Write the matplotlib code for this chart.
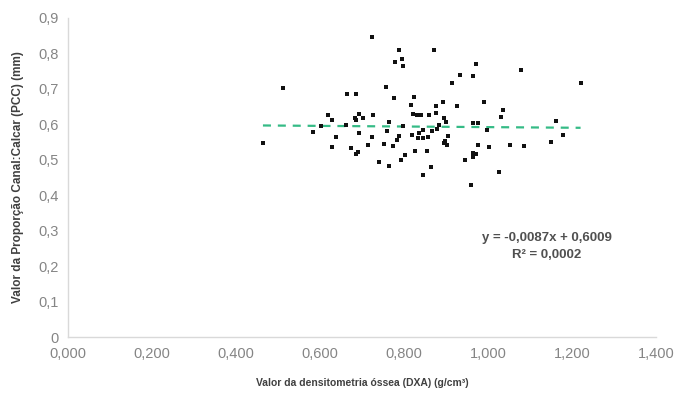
import matplotlib
matplotlib.use("Agg")
import matplotlib.pyplot as plt
from matplotlib.ticker import FuncFormatter, MultipleLocator

plt.rcParams['font.family'] = ['Liberation Sans', 'DejaVu Sans']

# DXA (g/cm2) e PCC
dxa = [0.464, 0.512, 0.584, 0.602, 0.620, 0.629, 0.637, 0.629, 0.661, 0.664,
       0.685, 0.682, 0.693, 0.686, 0.701, 0.693, 0.674, 0.685, 0.690, 0.723,
       0.715, 0.727, 0.723, 0.787, 0.795, 0.779, 0.798, 0.870, 0.756, 0.776,
       0.823, 0.817, 0.875, 0.892, 0.926, 0.913, 0.933, 0.965, 0.970, 0.763,
       0.798, 0.822, 0.830, 0.840, 0.860, 0.875, 0.895, 0.900, 0.882, 0.878,
       0.867, 0.846, 0.836, 0.832, 0.846, 0.858, 0.818, 0.789, 0.782, 0.759,
       0.752, 0.773, 0.905, 0.898, 0.903, 0.895, 0.826, 0.854, 0.802, 0.792,
       0.741, 0.765, 0.864, 0.845, 0.944, 0.963, 0.965, 0.960, 0.977, 0.963,
       0.977, 1.036, 1.031, 0.997, 1.001, 0.971, 1.051, 1.086, 1.025, 1.162,
       1.178, 1.150, 1.078, 1.220, 0.989]
pcc = [0.548, 0.702, 0.578, 0.595, 0.627, 0.613, 0.564, 0.536, 0.599, 0.686,
       0.686, 0.618, 0.629, 0.613, 0.618, 0.577, 0.533, 0.516, 0.522, 0.563,
       0.542, 0.627, 0.845, 0.811, 0.785, 0.775, 0.764, 0.811, 0.705, 0.673,
       0.677, 0.655, 0.653, 0.662, 0.653, 0.718, 0.740, 0.735, 0.771, 0.608,
       0.594, 0.629, 0.627, 0.627, 0.627, 0.632, 0.618, 0.606, 0.599, 0.588,
       0.582, 0.585, 0.575, 0.561, 0.561, 0.564, 0.571, 0.566, 0.556, 0.580,
       0.545, 0.538, 0.566, 0.552, 0.542, 0.547, 0.525, 0.525, 0.514, 0.500,
       0.493, 0.483, 0.479, 0.458, 0.500, 0.519, 0.509, 0.429, 0.542, 0.604,
       0.604, 0.641, 0.620, 0.585, 0.535, 0.517, 0.542, 0.540, 0.465, 0.610,
       0.571, 0.550, 0.754, 0.718, 0.662]

# linha de tendência (equação do gráfico)
slope = -0.0087
intercept = 0.6009

fig = plt.figure(figsize=(6.8, 3.99), dpi=100)
ax = fig.add_axes([0.1, 0.155, 0.865, 0.8])

ax.scatter(dxa, pcc, s=11, marker='s', color='#111111', zorder=3, linewidths=0)

xs = [min(dxa), max(dxa)]
ax.plot(xs, [slope * v + intercept for v in xs], color='#35bb86', lw=1.6,
        dashes=(3.6, 3.1), zorder=2)

ax.set_xlim(0, 1.4)
ax.set_ylim(0, 0.9)
ax.xaxis.set_major_locator(MultipleLocator(0.2))
ax.yaxis.set_major_locator(MultipleLocator(0.1))
ax.xaxis.set_major_formatter(FuncFormatter(lambda v, p: f"{v:.3f}".replace('.', ',')))
ax.yaxis.set_major_formatter(FuncFormatter(
    lambda v, p: '0' if abs(v) < 1e-9 else f"{v:.1f}".replace('.', ',')))

for s in ['top', 'right']:
    ax.spines[s].set_visible(False)
for s in ['left', 'bottom']:
    ax.spines[s].set_color('#d9d9d9')
    ax.spines[s].set_linewidth(1)
ax.tick_params(length=0, labelsize=10.5, colors='#858585', pad=7)

ax.set_xlabel('Valor da densitometria óssea (DXA) (g/cm³)', fontsize=7.5,
              fontweight='bold', color='#404040', labelpad=12)
ax.set_ylabel('Valor da Proporção Canal:Calcar (PCC) (mm)', fontsize=8.5,
              fontweight='bold', color='#404040', labelpad=10)

ax.text(1.14, 0.256, 'y = -0,0087x + 0,6009\nR² = 0,0002', ha='center',
        va='center', fontsize=9.5, fontweight='bold', color='#505050',
        linespacing=1.6)

fig.savefig('out.png', dpi=100)
